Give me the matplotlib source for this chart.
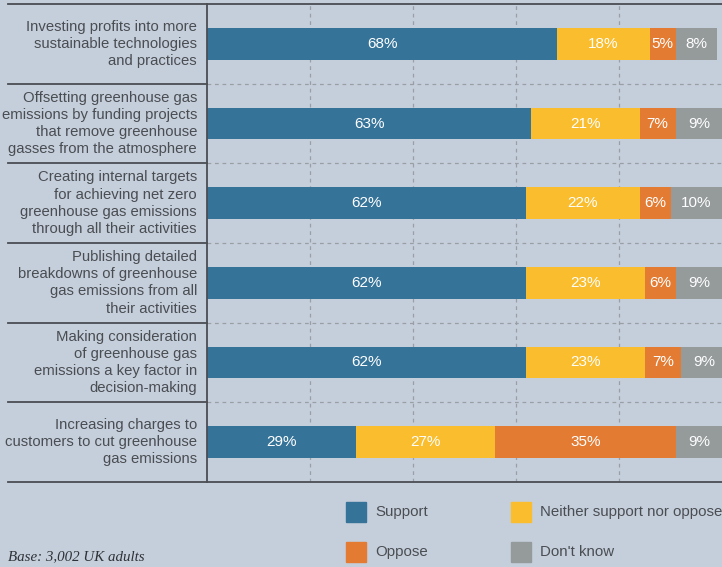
import matplotlib
matplotlib.use("Agg")
import matplotlib.pyplot as plt
from matplotlib.patches import Rectangle
from matplotlib.lines import Line2D

categories = [
    "Investing profits into more\nsustainable technologies\nand practices",
    "Offsetting greenhouse gas\nemissions by funding projects\nthat remove greenhouse\ngasses from the atmosphere",
    "Creating internal targets\nfor achieving net zero\ngreenhouse gas emissions\nthrough all their activities",
    "Publishing detailed\nbreakdowns of greenhouse\ngas emissions from all\ntheir activities",
    "Making consideration\nof greenhouse gas\nemissions a key factor in\ndecision-making",
    "Increasing charges to\ncustomers to cut greenhouse\ngas emissions",
]
support = [68, 63, 62, 62, 62, 29]
neither = [18, 21, 22, 23, 23, 27]
oppose = [5, 7, 6, 6, 7, 35]
dont_know = [8, 9, 10, 9, 9, 9]

series_names = ["Support", "Neither support nor oppose", "Oppose", "Don't know"]
colors = ["#357399", "#f9bd2d", "#e37b33", "#959a9b"]
bg = "#c5cfdb"
text_color = "#4a4d52"

W, H = 722, 567
fig = plt.figure(figsize=(W / 100, H / 100), dpi=100, facecolor=bg)
plt.rcParams["font.family"] = ["Liberation Sans", "DejaVu Sans"]

left_px, right_px, top_px, bottom_px = 207, 722, 4, 482
ax = fig.add_axes([left_px / W, (H - bottom_px) / H,
                   (right_px - left_px) / W, (bottom_px - top_px) / H])
ax.set_facecolor(bg)
n = len(categories)
ax.set_xlim(0, 100)
ax.set_ylim(n - 0.5, -0.5)
for s in ax.spines.values():
    s.set_visible(False)
ax.set_xticks([])
ax.set_yticks([])

# dashed vertical grid
for gx in [20, 40, 60, 80]:
    ax.axvline(gx, color="#9a9fa6", lw=0.9, ls=(0, (3, 3)), zorder=0)
# dashed row separators inside the plot
for i in range(1, n):
    ax.axhline(i - 0.5, color="#9a9fa6", lw=0.9, ls=(0, (3, 3)), zorder=0)

series = [support, neither, oppose, dont_know]
for i in range(n):
    start = 0
    for vals, c in zip(series, colors):
        v = vals[i]
        ax.barh(i, v, left=start, height=0.4, color=c, zorder=2)
        ax.text(start + v / 2, i, f"{v}%", ha="center", va="center",
                color="white", fontsize=11, zorder=3)
        start += v

# axis frame lines drawn in figure pixels
def fx(px):
    return px / W

def fy(py):
    return 1 - py / H

line_col = "#4b4e53"
fig.add_artist(Line2D([fx(8), fx(722)], [fy(top_px), fy(top_px)], color=line_col, lw=1.3))
fig.add_artist(Line2D([fx(8), fx(722)], [fy(bottom_px), fy(bottom_px)], color=line_col, lw=1.3))
fig.add_artist(Line2D([fx(left_px), fx(left_px)], [fy(top_px), fy(bottom_px)], color=line_col, lw=1.3))
row_h = (bottom_px - top_px) / n
for i in range(1, n):
    y = top_px + i * row_h
    fig.add_artist(Line2D([fx(8), fx(left_px)], [fy(y), fy(y)], color=line_col, lw=1.3))

# category labels
for i, cat in enumerate(categories):
    y = top_px + (i + 0.5) * row_h
    fig.text(fx(197), fy(y), cat, ha="right", va="center", color=text_color,
             fontsize=10.7, linespacing=1.3)

# legend
legend_items = [(346, 512, 0), (511, 512, 1), (346, 552, 2), (511, 552, 3)]
for x, y, k in legend_items:
    fig.add_artist(Rectangle((fx(x), fy(y + 10)), 20 / W, 20 / H,
                             color=colors[k], transform=fig.transFigure))
    fig.text(fx(x + 29), fy(y), series_names[k], ha="left", va="center",
             color=text_color, fontsize=10.8)

fig.text(fx(8), fy(557), "Base: 3,002 UK adults", ha="left", va="center",
         color="#2f3236", fontsize=10.8, style="italic", family="Liberation Serif")

fig.savefig("out.png", dpi=100, facecolor=bg)
